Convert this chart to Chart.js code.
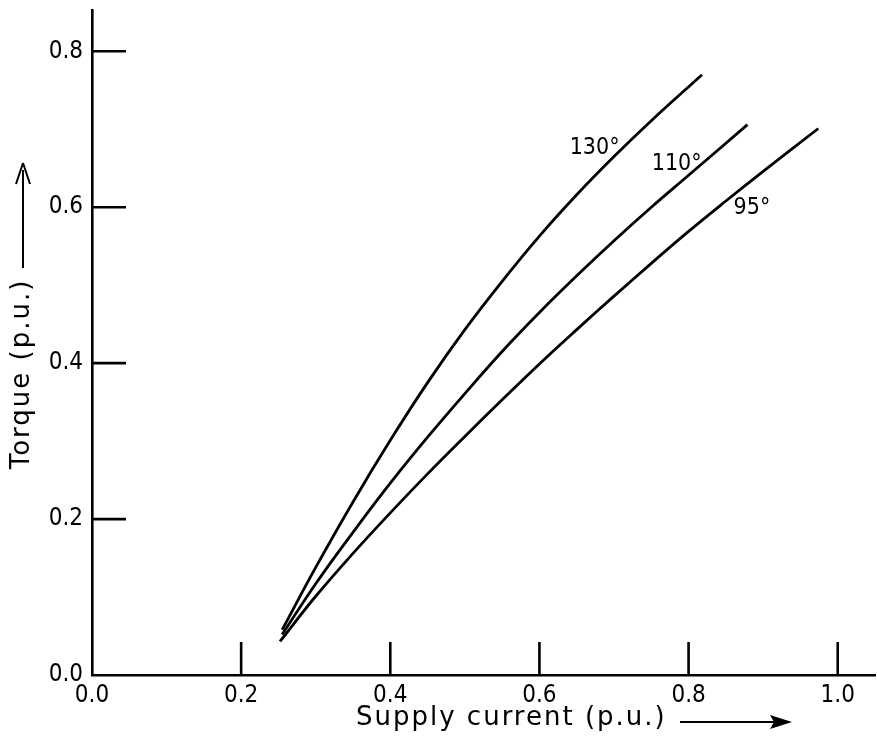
<!DOCTYPE html>
<html>
<head>
<meta charset="utf-8">
<script src="https://cdn.jsdelivr.net/npm/chart.js@4.4.0/dist/chart.umd.min.js"></script>
<style>
body { margin: 0; background: #fff; }
</style>
</head>
<body>
<canvas id="myChart" width="877" height="741"></canvas>
<script>
// curves (supply current vs torque, p.u.)
var current130 = [0.255, 0.30, 0.35, 0.40, 0.45, 0.50, 0.55, 0.60, 0.65, 0.70, 0.75, 0.818];
var torque130  = [0.058, 0.138, 0.222, 0.301, 0.375, 0.443, 0.505, 0.563, 0.616, 0.665, 0.711, 0.770];
var current110 = [0.255, 0.30, 0.35, 0.40, 0.45, 0.50, 0.55, 0.60, 0.65, 0.70, 0.75, 0.80, 0.879];
var torque110  = [0.052, 0.117, 0.183, 0.246, 0.305, 0.361, 0.415, 0.465, 0.512, 0.557, 0.600, 0.641, 0.706];
var current95  = [0.252, 0.30, 0.35, 0.40, 0.45, 0.50, 0.55, 0.60, 0.65, 0.70, 0.75, 0.80, 0.85, 0.90, 0.974];
var torque95   = [0.043, 0.101, 0.156, 0.208, 0.258, 0.306, 0.353, 0.399, 0.443, 0.486, 0.528, 0.569, 0.608, 0.646, 0.701];

var curveLabels = ['130°', '110°', '95°'];
var labelX = [0.674, 0.784, 0.885];
var labelY = [0.676, 0.656, 0.599];

var xTicks = [0.2, 0.4, 0.6, 0.8, 1.0];
var yTicks = [0.2, 0.4, 0.6, 0.8];

var FONT = '"DejaVu Sans Condensed", "Liberation Sans Narrow", "DejaVu Sans", sans-serif';
var TITLE_FONT = '"DejaVu Sans", "Liberation Sans", sans-serif';

function pts(xs, ys) {
    return xs.map(function (x, i) { return { x: x, y: ys[i] }; });
}

function curve(xs, ys) {
    return {
        data: pts(xs, ys),
        showLine: true,
        borderColor: '#000',
        borderWidth: 2.8,
        pointRadius: 0,
        tension: 0.4,
        fill: false
    };
}

// inward tick marks, curve labels and axis titles with arrows
var decorations = {
    id: 'decorations',
    afterDraw: function (chart) {
        var c = chart.ctx, xs = chart.scales.x, ys = chart.scales.y;
        c.save();
        c.strokeStyle = '#000';
        c.fillStyle = '#000';
        c.lineWidth = 2.6;
        yTicks.forEach(function (v) {
            var py = ys.getPixelForValue(v);
            c.beginPath(); c.moveTo(xs.left, py); c.lineTo(xs.left + 34, py); c.stroke();
        });
        xTicks.forEach(function (v) {
            var px = xs.getPixelForValue(v);
            c.beginPath(); c.moveTo(px, ys.bottom); c.lineTo(px, ys.bottom - 33); c.stroke();
        });

        c.font = '23px ' + FONT;
        c.textAlign = 'center';
        c.textBaseline = 'middle';
        curveLabels.forEach(function (t, i) {
            c.fillText(t, xs.getPixelForValue(labelX[i]), ys.getPixelForValue(labelY[i]));
        });

        // x title
        c.font = '26px ' + TITLE_FONT;
        c.letterSpacing = '2px';
        c.textAlign = 'left';
        c.fillText('Supply current (p.u.)', 356, 718);
        c.lineWidth = 2;
        c.beginPath(); c.moveTo(680, 722); c.lineTo(788, 722); c.stroke();
        c.beginPath(); c.moveTo(792, 722); c.lineTo(770, 715); c.lineTo(774, 722); c.lineTo(770, 729); c.closePath(); c.fill();

        // y title
        c.save();
        c.translate(22, 374);
        c.rotate(-Math.PI / 2);
        c.textAlign = 'center';
        c.fillText('Torque (p.u.)', 0, 0);
        c.restore();
        c.beginPath(); c.moveTo(23, 268); c.lineTo(23, 170); c.stroke();
        c.beginPath(); c.moveTo(23, 163); c.lineTo(16, 184); c.moveTo(23, 163); c.lineTo(30, 184); c.stroke();
        c.restore();
    }
};

var ctx = document.getElementById('myChart');
var chart = new Chart(ctx, {
    type: 'scatter',
    data: {
        datasets: [
            curve(current130, torque130),
            curve(current110, torque110),
            curve(current95, torque95)
        ]
    },
    options: {
        responsive: false,
        animation: false,
        layout: { padding: { top: 10, right: 2, left: 0, bottom: 0 } },
        plugins: { legend: { display: false }, tooltip: { enabled: false } },
        scales: {
            x: {
                type: 'linear',
                min: 0, max: 1.05,
                afterFit: function (s) { s.height = 66; s.paddingLeft = 0; s.paddingRight = 0; },
                grid: { drawOnChartArea: false, drawTicks: false },
                border: { color: '#000', width: 2.6 },
                ticks: {
                    stepSize: 0.2, includeBounds: false, padding: 6,
                    color: '#000', font: { size: 24, family: FONT },
                    maxRotation: 0,
                    callback: function (v) { return v.toFixed(1); }
                }
            },
            y: {
                type: 'linear',
                min: 0, max: 0.853,
                afterFit: function (s) { s.width = 92; s.paddingTop = 0; s.paddingBottom = 0; },
                grid: { drawOnChartArea: false, drawTicks: false },
                border: { color: '#000', width: 2.6 },
                ticks: {
                    stepSize: 0.2, includeBounds: false, padding: 9,
                    color: '#000', font: { size: 24, family: FONT },
                    callback: function (v) { return v.toFixed(1); }
                }
            }
        }
    },
    plugins: [decorations]
});
</script>
</body>
</html>
